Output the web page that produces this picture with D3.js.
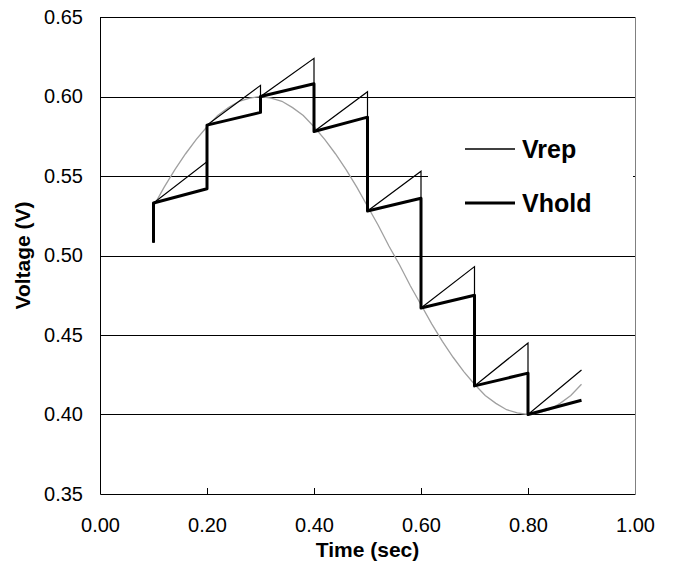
<!DOCTYPE html>
<html>
<head>
<meta charset="utf-8">
<script src="https://cdn.jsdelivr.net/npm/d3@7"></script>
<style>
  html, body { margin: 0; padding: 0; background: #fff; }
  svg text { font-family: "Liberation Sans", Arial, sans-serif; }
</style>
</head>
<body>
<svg id="chart" width="673" height="564"></svg>
<script>
// Sample instants of the track/hold
const sampleTimes = [0.1, 0.2, 0.3, 0.4, 0.5, 0.6, 0.7, 0.8, 0.9];
// Vhold: value just after each sample, and value at the end of each hold period
const holdStart = [0.533, 0.582, 0.600, 0.578, 0.528, 0.467, 0.418, 0.400];
const holdEnd = [0.542, 0.590, 0.608, 0.587, 0.536, 0.475, 0.426, 0.409];
// Vrep: value at the end of each hold period (starts from holdStart)
const repEnd = [0.559, 0.607, 0.624, 0.603, 0.553, 0.493, 0.445, 0.428];
const initialValue = 0.508;

// Input signal (grey curve)
const inputTimes = [0.10, 0.12, 0.14, 0.16, 0.18, 0.20, 0.22, 0.24, 0.26, 0.28,
  0.30, 0.32, 0.34, 0.36, 0.38, 0.40, 0.42, 0.44, 0.46, 0.48,
  0.50, 0.52, 0.54, 0.56, 0.58, 0.60, 0.62, 0.64, 0.66, 0.68,
  0.70, 0.72, 0.74, 0.76, 0.78, 0.80, 0.82, 0.84, 0.86, 0.88, 0.90];
const inputValues = [0.531, 0.543, 0.554, 0.564, 0.573, 0.581, 0.588, 0.593, 0.597, 0.599,
  0.600, 0.599, 0.597, 0.593, 0.588, 0.581, 0.573, 0.564, 0.554, 0.543,
  0.531, 0.519, 0.506, 0.494, 0.481, 0.469, 0.457, 0.446, 0.436, 0.427,
  0.419, 0.412, 0.407, 0.403, 0.401, 0.400, 0.401, 0.403, 0.407, 0.412, 0.419];

const xTicks = [0, 0.2, 0.4, 0.6, 0.8, 1.0];
const yTicks = [0.35, 0.40, 0.45, 0.50, 0.55, 0.60, 0.65];
const legendLabels = ["Vrep", "Vhold"];

const svg = d3.select("#chart");
const margin = { left: 100, right: 38, top: 17, bottom: 70 };
const width = 673 - margin.left - margin.right;
const height = 564 - margin.top - margin.bottom;

const x = d3.scaleLinear().domain([0, 1]).range([0, width]);
const y = d3.scaleLinear().domain([0.35, 0.65]).range([height, 0]);

const g = svg.append("g").attr("transform", `translate(${margin.left},${margin.top})`);

// horizontal gridlines
g.append("g")
  .selectAll("line")
  .data(yTicks.slice(1))
  .join("line")
  .attr("x1", 0)
  .attr("x2", width)
  .attr("y1", (d) => Math.round(y(d)) + 0.5)
  .attr("y2", (d) => Math.round(y(d)) + 0.5)
  .attr("stroke", "#000")
  .attr("stroke-width", 1);

// right border
g.append("line")
  .attr("x1", width + 0.5).attr("x2", width + 0.5)
  .attr("y1", 0).attr("y2", height)
  .attr("stroke", "#808080");

// legend background hides gridline behind it
g.append("rect")
  .attr("x", 328).attr("y", 100)
  .attr("width", width - 330).attr("height", 135)
  .attr("fill", "#fff");

// build step series from the arrays
const repPts = [[sampleTimes[0], initialValue]];
const holdPts = [[sampleTimes[0], initialValue]];
holdStart.forEach((v, i) => {
  repPts.push([sampleTimes[i], v], [sampleTimes[i + 1], repEnd[i]]);
  holdPts.push([sampleTimes[i], v], [sampleTimes[i + 1], holdEnd[i]]);
});

const line = d3.line().x((d) => x(d[0])).y((d) => y(d[1]));

g.append("path")
  .datum(inputTimes.map((t, i) => [t, inputValues[i]]))
  .attr("d", line)
  .attr("fill", "none")
  .attr("stroke", "#a0a0a0")
  .attr("stroke-width", 1.3);

g.append("path")
  .datum(repPts)
  .attr("d", line)
  .attr("fill", "none")
  .attr("stroke", "#000")
  .attr("stroke-width", 1.2);

g.append("path")
  .datum(holdPts)
  .attr("d", line)
  .attr("fill", "none")
  .attr("stroke", "#000")
  .attr("stroke-width", 3)
  .attr("stroke-linejoin", "round");

// axes
const xAxis = g.append("g")
  .attr("transform", `translate(0,${height})`)
  .call(d3.axisBottom(x).tickValues(xTicks).tickFormat(d3.format(".2f")).tickSizeInner(-6).tickSizeOuter(0).tickPadding(24));
xAxis.select(".domain").attr("stroke", "#000");
xAxis.selectAll(".tick line").attr("stroke", "#000").filter((d) => d === 0 || d === 1).remove();
xAxis.selectAll(".tick text").attr("font-size", 20).attr("fill", "#000");

const yAxis = g.append("g")
  .call(d3.axisLeft(y).tickValues(yTicks).tickFormat(d3.format(".2f")).tickSize(0).tickPadding(17));
yAxis.select(".domain").attr("stroke", "#000");
yAxis.selectAll(".tick text").attr("font-size", 20).attr("fill", "#000");

// axis titles
svg.append("text")
  .attr("x", margin.left + width / 2)
  .attr("y", 557)
  .attr("text-anchor", "middle")
  .attr("font-size", 21)
  .attr("font-weight", "bold")
  .text("Time (sec)");

svg.append("text")
  .attr("transform", `translate(30,${margin.top + height / 2}) rotate(-90)`)
  .attr("text-anchor", "middle")
  .attr("font-size", 21)
  .attr("font-weight", "bold")
  .text("Voltage (V)");

// legend
const legend = svg.append("g").attr("transform", "translate(465,149)");
legend.selectAll("g")
  .data(legendLabels)
  .join("g")
  .attr("transform", (d, i) => `translate(0,${i * 54})`)
  .each(function (d, i) {
    const item = d3.select(this);
    item.append("line")
      .attr("x1", 0).attr("x2", 50)
      .attr("stroke", "#000")
      .attr("stroke-width", i === 0 ? 1.3 : 3);
    item.append("text")
      .attr("x", 57)
      .attr("y", 8.5)
      .attr("font-size", 25)
      .attr("font-weight", "bold")
      .text(d);
  });
</script>
</body>
</html>
